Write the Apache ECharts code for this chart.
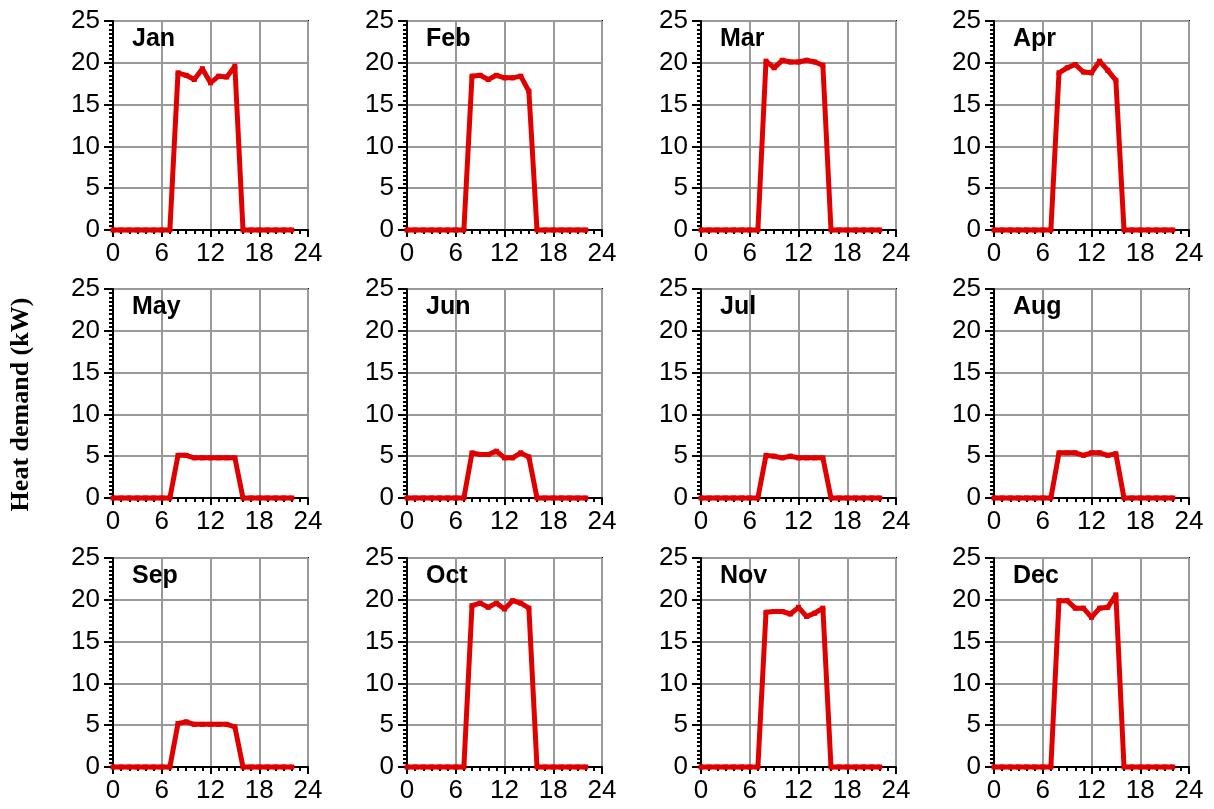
<!DOCTYPE html>
<html>
<head>
<meta charset="utf-8">
<script src="https://cdn.jsdelivr.net/npm/echarts@6/dist/echarts.min.js"></script>
<style>
html,body{margin:0;padding:0;background:#fff;}
#chart{width:1214px;height:809px;}
</style>
</head>
<body>
<div id="chart"></div>
<script>
const months = ['Jan','Feb','Mar','Apr','May','Jun','Jul','Aug','Sep','Oct','Nov','Dec'];
const hours = [0,1,2,3,4,5,6,7,8,9,10,11,12,13,14,15,16,17,18,19,20,21,22];
const yTitle = 'Heat demand (kW)';

const jan = [0,0,0,0,0,0,0,0, 18.8,18.5,18.0,19.3,17.6,18.4,18.3,19.6, 0,0,0,0,0,0,0];
const feb = [0,0,0,0,0,0,0,0, 18.4,18.5,18.0,18.5,18.2,18.2,18.4,16.6, 0,0,0,0,0,0,0];
const mar = [0,0,0,0,0,0,0,0, 20.2,19.4,20.3,20.1,20.1,20.3,20.1,19.7, 0,0,0,0,0,0,0];
const apr = [0,0,0,0,0,0,0,0, 18.8,19.4,19.8,18.9,18.8,20.2,19.1,17.9, 0,0,0,0,0,0,0];
const may = [0,0,0,0,0,0,0,0, 5.1,5.1,4.8,4.8,4.8,4.8,4.8,4.8, 0,0,0,0,0,0,0];
const jun = [0,0,0,0,0,0,0,0, 5.4,5.2,5.2,5.6,4.8,4.8,5.4,4.9, 0,0,0,0,0,0,0];
const jul = [0,0,0,0,0,0,0,0, 5.1,5.0,4.8,5.0,4.8,4.8,4.8,4.8, 0,0,0,0,0,0,0];
const aug = [0,0,0,0,0,0,0,0, 5.4,5.4,5.4,5.1,5.4,5.4,5.1,5.3, 0,0,0,0,0,0,0];
const sep = [0,0,0,0,0,0,0,0, 5.2,5.4,5.1,5.1,5.1,5.1,5.1,4.8, 0,0,0,0,0,0,0];
const oct = [0,0,0,0,0,0,0,0, 19.3,19.6,19.1,19.6,18.9,19.9,19.6,19.0, 0,0,0,0,0,0,0];
const nov = [0,0,0,0,0,0,0,0, 18.5,18.6,18.6,18.3,19.1,18.0,18.4,19.0, 0,0,0,0,0,0,0];
const dec = [0,0,0,0,0,0,0,0, 19.9,19.9,19.0,19.0,17.9,19.0,19.1,20.6, 0,0,0,0,0,0,0];
const monthData = [jan,feb,mar,apr,may,jun,jul,aug,sep,oct,nov,dec];

const colLefts = [113, 407, 701, 994];
const rowTops = [21, 289, 558];
const gw = 195, gh = 209;
const font = "'Liberation Sans', Arial, sans-serif";

const grids = [], xAxes = [], yAxes = [], series = [], titles = [];
months.forEach((m, i) => {
  const r = Math.floor(i / 4), c = i % 4;
  grids.push({left: colLefts[c], top: rowTops[r], width: gw, height: gh,
    show: true, borderColor: '#000', borderWidth: 2, backgroundColor: 'transparent'});
  xAxes.push({type: 'value', gridIndex: i, min: 0, max: 24, interval: 6,
    axisLine: {show: true, onZero: false, lineStyle: {color: '#000', width: 2}},
    axisTick: {show: true, length: 7, lineStyle: {color: '#000', width: 2}},
    minorTick: {show: true, splitNumber: 6, length: 4, lineStyle: {color: '#000', width: 2}},
    splitLine: {show: true, lineStyle: {color: '#999', width: 2}},
    axisLabel: {color: '#000', fontSize: 26, fontFamily: font, margin: 11}});
  yAxes.push({type: 'value', gridIndex: i, min: 0, max: 25, interval: 5,
    axisLine: {show: true, lineStyle: {color: '#000', width: 2}},
    axisTick: {show: true, length: 9, lineStyle: {color: '#000', width: 2}},
    minorTick: {show: true, splitNumber: 10, length: 4, lineStyle: {color: '#000', width: 2}},
    splitLine: {show: true, lineStyle: {color: '#999', width: 2}},
    axisLabel: {color: '#000', fontSize: 26, fontFamily: font, margin: 13}});
  series.push({type: 'line', xAxisIndex: i, yAxisIndex: i, clip: false,
    data: hours.map((h, k) => [h, monthData[i][k]]),
    symbol: 'rect', symbolSize: 5, showSymbol: true,
    itemStyle: {color: '#e00000'},
    lineStyle: {color: '#e00000', width: 5}, animation: false});
  titles.push({text: m, left: colLefts[c] + 14, top: rowTops[r] + 1,
    textStyle: {fontSize: 25, fontWeight: 'bold', color: '#000', fontFamily: font}});
});

const chart = echarts.init(document.getElementById('chart'), null, {renderer: 'canvas'});
chart.setOption({
  animation: false,
  backgroundColor: '#fff',
  title: titles,
  grid: grids,
  xAxis: xAxes,
  yAxis: yAxes,
  series: series,
  graphic: [{
    type: 'text', left: 8, top: 'middle', rotation: Math.PI / 2,
    style: {text: yTitle, font: "bold 26px 'Liberation Serif', 'Times New Roman', serif", fill: '#000'}
  }]
});
</script>
</body>
</html>
